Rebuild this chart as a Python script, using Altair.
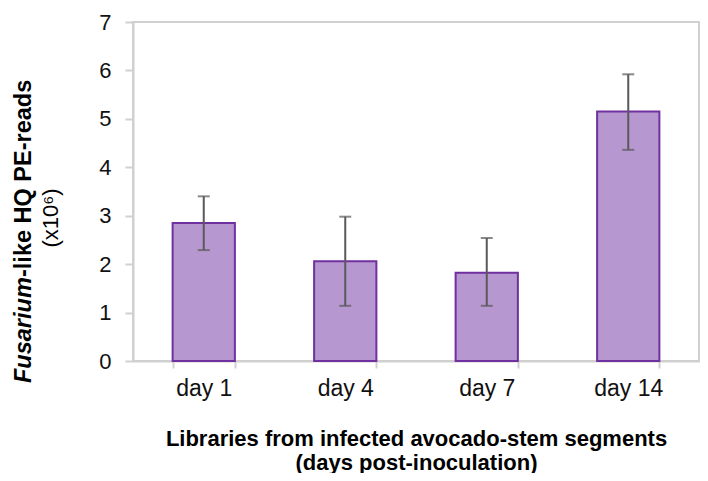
import altair as alt
import pandas as pd

days = ["day 1", "day 4", "day 7", "day 14"]
means = [2.85, 2.06, 1.82, 5.15]
lower = [2.29, 1.14, 1.14, 4.36]
upper = [3.40, 2.98, 2.54, 5.92]
y_ticks = [0, 1, 2, 3, 4, 5, 6, 7]

df = pd.DataFrame({"day": days, "mean": means, "lo": lower, "hi": upper})

FONT = "Liberation Sans"
GRAY = "#d0d0d0"

x_enc = alt.X(
    "day:N", sort=days,
    scale=alt.Scale(paddingInner=0.56, paddingOuter=0.28),
    axis=alt.Axis(
        title=["Libraries from infected avocado-stem segments", "(days post-inoculation)"],
        labelAngle=0, labelFontSize=23, labelFont=FONT, labelColor="#111111",
        labelPadding=9, tickBand="extent", tickSize=7, tickColor=GRAY, tickWidth=2,
        domainColor=GRAY, domainWidth=2,
        titleFont=FONT, titleFontSize=22, titleFontWeight="bold", titleColor="#000000",
        titlePadding=28, titleLineHeight=24,
    ),
)
y_scale = alt.Scale(domain=[0, 7], nice=False)
y_axis = alt.Axis(
    values=y_ticks, title=None, grid=False, labelFontSize=22, labelFont=FONT,
    labelColor="#111111", labelPadding=14, tickSize=8, tickColor=GRAY, tickWidth=2,
    domainColor=GRAY, domainWidth=2,
)

base = alt.Chart(df)

bars = base.mark_bar(fill="#b797cf", stroke="#7030a0", strokeWidth=2).encode(
    x=x_enc,
    y=alt.Y("mean:Q", scale=y_scale, axis=y_axis),
)
rules = base.mark_rule(color="#595959", strokeWidth=2).encode(
    x=alt.X("day:N", sort=days), y="lo:Q", y2="hi:Q"
)
caps_lo = base.mark_tick(color="#595959", thickness=2, size=12, orient="horizontal").encode(
    x=alt.X("day:N", sort=days), y="lo:Q"
)
caps_hi = base.mark_tick(color="#595959", thickness=2, size=12, orient="horizontal").encode(
    x=alt.X("day:N", sort=days), y="hi:Q"
)

title_df = pd.DataFrame({"t": [0]})
t_ital = alt.Chart(title_df).mark_text(
    text="Fusarium", angle=270, align="left", baseline="middle",
    font=FONT, fontSize=23.5, fontWeight="bold", fontStyle="italic", color="#000000",
).encode(x=alt.value(-109), y=alt.value(361))
t_rest = alt.Chart(title_df).mark_text(
    text="-like HQ PE-reads", angle=270, align="left", baseline="middle",
    font=FONT, fontSize=23.5, fontWeight="bold", color="#000000",
).encode(x=alt.value(-109), y=alt.value(255))
t_unit = alt.Chart(title_df).mark_text(
    text="(x10⁶)", angle=270, align="center", baseline="middle",
    font=FONT, fontSize=22, color="#000000",
).encode(x=alt.value(-82), y=alt.value(196))

chart = alt.layer(bars, rules, caps_lo, caps_hi, t_ital, t_rest, t_unit).properties(
    width=566, height=339,
    autosize=alt.AutoSizeParams(type="none"),
    padding={"left": 125, "top": 14, "right": 1, "bottom": 112},
).configure_view(stroke=GRAY, strokeWidth=2)

chart.save("out.html", embed_options={"renderer": "svg", "actions": False})
